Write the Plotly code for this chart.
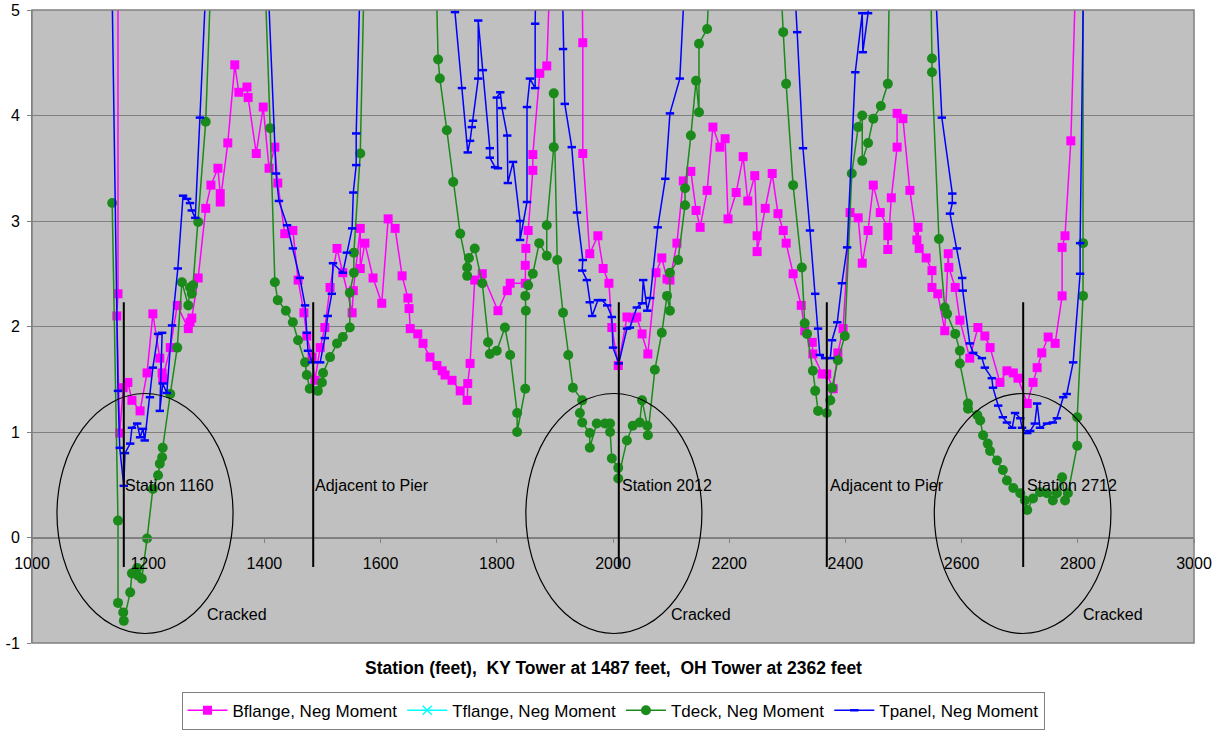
import plotly.graph_objects as go

# ---------------- data (station in feet, ratio values) ----------------
bf_x = [1148, 1148, 1146, 1151, 1157, 1165, 1172, 1186, 1198, 1208,
        1220, 1224, 1225, 1238, 1250, 1269, 1272, 1275, 1286, 1299,
        1308, 1320, 1324, 1324, 1337, 1349, 1356, 1370, 1372, 1386,
        1398, 1408, 1418, 1423, 1435, 1449, 1458, 1468, 1473, 1482,
        1487, 1496, 1504, 1513, 1525, 1535, 1551, 1553, 1565, 1565,
        1573, 1587, 1602, 1613, 1625, 1637, 1647, 1649, 1651, 1664,
        1673, 1685, 1697, 1706, 1711, 1723, 1737, 1749, 1750, 1754,
        1762, 1775, 1802, 1818, 1823, 1849, 1849, 1850, 1854, 1862,
        1862, 1874, 1886, 1934, 1948, 1948, 1960, 1974, 1983, 1993,
        1998, 2009, 2024, 2034, 2041, 2050, 2060, 2074, 2084, 2093,
        2098, 2110, 2121, 2134, 2143, 2150, 2162, 2172, 2184, 2193,
        2198, 2212, 2224, 2232, 2244, 2248, 2248, 2262, 2274, 2284,
        2293, 2298, 2310, 2324, 2330, 2343, 2344, 2360, 2368, 2379,
        2387, 2396, 2408, 2422, 2429, 2439, 2448, 2460, 2473, 2473,
        2473, 2479, 2489, 2489, 2499, 2511, 2523, 2525, 2527, 2539,
        2549, 2549, 2559, 2571, 2577, 2578, 2589, 2597, 2614, 2628,
        2640, 2649, 2666, 2678, 2689, 2697, 2713, 2723, 2730, 2738,
        2749, 2761, 2773, 2773, 2778, 2788, 2811]
bf_y = [8.0, 2.31, 2.10, 0.99, 1.42, 1.47, 1.30, 1.20, 1.56, 2.12,
        1.70, 1.56, 1.51, 1.80, 2.20, 1.98, 2.04, 2.08, 2.46, 3.12,
        3.34, 3.50, 3.26, 3.18, 3.74, 4.48, 4.22, 4.27, 4.17, 3.64,
        4.08, 3.50, 3.70, 3.36, 2.88, 2.91, 2.44, 2.13, 1.91, 1.71,
        1.49, 1.80, 1.99, 2.37, 2.74, 2.51, 2.13, 2.34, 2.93, 2.55,
        2.79, 2.46, 2.22, 3.02, 2.93, 2.48, 2.27, 2.17, 1.98, 1.93,
        1.84, 1.71, 1.63, 1.58, 1.54, 1.49, 1.39, 1.30, 1.46, 1.65,
        2.44, 2.50, 2.15, 2.34, 2.41, 2.41, 2.58, 2.74, 2.91, 3.48,
        3.63, 4.40, 4.47, 12.0, 4.69, 3.64, 2.69, 2.86, 2.55, 2.41,
        1.99, 1.63, 2.09, 2.08, 2.09, 1.93, 1.74, 2.51, 2.65, 2.45,
        2.44, 2.79, 3.38, 3.47, 3.10, 2.94, 3.29, 3.89, 3.70, 3.78,
        3.02, 3.27, 3.61, 3.19, 3.43, 2.86, 2.71, 3.12, 3.45, 3.07,
        2.91, 2.79, 2.50, 2.20, 1.96, 1.85, 1.74, 1.55, 1.55, 1.41,
        1.75, 1.98, 3.08, 3.03, 2.60, 2.91, 3.34, 3.08, 2.94, 2.86,
        2.73, 3.22, 3.70, 4.02, 3.97, 3.29, 2.82, 2.94, 2.74, 2.65,
        2.53, 2.37, 2.31, 1.96, 2.69, 2.56, 2.37, 2.06, 1.70, 1.99,
        1.91, 1.80, 1.47, 1.58, 1.56, 1.51, 1.27, 1.47, 1.61, 1.75,
        1.90, 1.84, 2.29, 2.75, 2.86, 3.76, 8.0]

# Tflange values lie outside the plotted range (nothing visible in the chart)
tf_x = [None]
tf_y = [None]

td_x = [1138, 1148, 1148, 1157, 1158, 1169, 1172, 1181, 1182, 1189,
        1198, 1208, 1217, 1220, 1224, 1225, 1238, 1250, 1258, 1269,
        1272, 1275, 1277, 1286, 1299, 1355, 1410, 1418, 1423, 1437,
        1449, 1458, 1470, 1473, 1478, 1492, 1499, 1501, 1513, 1525,
        1535, 1547, 1547, 1554, 1554, 1565, 1630, 1699, 1702, 1714,
        1725, 1737, 1749, 1749, 1752, 1762, 1775, 1785, 1788, 1800,
        1814, 1823, 1835, 1835, 1849, 1850, 1849, 1854, 1862, 1873,
        1886, 1886, 1898, 1898, 1904, 1914, 1923, 1931, 1947, 1943,
        1947, 1960, 1960, 1972, 1986, 1995, 1995, 1998, 2009, 2009,
        2024, 2034, 2046, 2050, 2059, 2060, 2072, 2084, 2093, 2098,
        2098, 2112, 2124, 2124, 2134, 2143, 2148, 2148, 2162, 2227,
        2293, 2298, 2310, 2325, 2330, 2334, 2344, 2348, 2353, 2368,
        2374, 2377, 2387, 2399, 2411, 2422, 2429, 2429, 2439, 2448,
        2461, 2473, 2511, 2549, 2549, 2561, 2571, 2575, 2589, 2597,
        2597, 2611, 2611, 2627, 2632, 2637, 2645, 2649, 2661, 2671,
        2678, 2689, 2701, 2709, 2713, 2723, 2735, 2747, 2757, 2764,
        2773, 2778, 2783, 2799, 2799, 2809, 2809, 2809]
td_y = [3.17, 0.16, -0.62, -0.71, -0.79, -0.52, -0.34, -0.29, -0.36, -0.39,
        -0.01, 0.46, 0.59, 0.70, 0.76, 0.85, 1.36, 1.80, 2.42, 2.20,
        2.37, 2.31, 2.39, 2.99, 3.94, 12.5, 3.88, 2.42, 2.25, 2.15,
        2.04, 1.87, 1.66, 1.54, 1.41, 1.39, 1.47, 1.56, 1.71, 1.84,
        1.90, 1.99, 2.32, 2.51, 2.70, 3.64, 20.0, 4.53, 4.35, 3.86,
        3.37, 2.88, 2.56, 2.48, 2.65, 2.74, 2.41, 1.85, 1.74, 1.77,
        1.99, 1.73, 1.18, 1.00, 1.41, 2.15, 2.29, 2.39, 2.50, 2.79,
        2.67, 2.96, 3.70, 4.21, 2.63, 2.13, 1.73, 1.42, 1.30, 1.18,
        1.09, 0.99, 0.85, 1.08, 1.08, 1.08, 1.00, 0.75, 0.66, 0.56,
        0.92, 1.06, 1.09, 1.30, 1.06, 0.97, 1.59, 1.94, 2.29, 2.15,
        2.51, 2.63, 3.15, 3.31, 3.81, 4.33, 4.03, 4.68, 4.82, 12.0,
        4.79, 4.30, 3.34, 2.56, 2.03, 1.93, 1.58, 1.39, 1.20, 1.18,
        1.30, 1.42, 1.68, 1.91, 3.45, 3.89, 4.00, 3.57, 3.74, 3.97,
        4.09, 4.30, 18.0, 4.54, 4.41, 2.83, 2.18, 2.12, 1.93, 1.77,
        1.65, 1.27, 1.22, 1.16, 1.11, 0.97, 0.89, 0.82, 0.73, 0.64,
        0.54, 0.47, 0.42, 0.35, 0.26, 0.37, 0.43, 0.42, 0.35, 0.42,
        0.57, 0.35, 0.42, 0.87, 1.14, 2.29, 2.79, 10.0]

tp_x = [1125, 1148, 1151, 1158, 1160, 1169, 1172, 1181, 1186, 1191,
        1194, 1203, 1208, 1217, 1224, 1220, 1225, 1232, 1241, 1251,
        1260, 1267, 1272, 1275, 1281, 1289, 1355, 1420, 1425, 1439,
        1449, 1461, 1470, 1473, 1475, 1482, 1496, 1504, 1509, 1516,
        1518, 1535, 1542, 1551, 1553, 1558, 1558, 1633, 1728, 1740,
        1750, 1754, 1757, 1759, 1768, 1768, 1776, 1788, 1788, 1797,
        1802, 1800, 1806, 1809, 1818, 1819, 1828, 1840, 1840, 1852,
        1852, 1857, 1866, 1866, 1888, 1914, 1917, 1929, 1938, 1948,
        1947, 1955, 1960, 1964, 1974, 1981, 1990, 1998, 2000, 2010,
        2024, 2029, 2041, 2050, 2052, 2059, 2064, 2077, 2090, 2098,
        2115, 2213, 2317, 2327, 2339, 2348, 2353, 2356, 2365, 2374,
        2377, 2386, 2394, 2403, 2417, 2429, 2430, 2439, 2494, 2566,
        2584, 2584, 2580, 2592, 2601, 2602, 2614, 2620, 2635, 2640,
        2652, 2654, 2663, 2671, 2678, 2687, 2692, 2701, 2704, 2713,
        2718, 2726, 2730, 2735, 2747, 2757, 2764, 2775, 2781, 2792,
        2804, 2804, 2821]
tp_y = [10.0, 1.39, 0.85, 0.49, 0.80, 0.89, 1.04, 1.08, 0.95, 1.03,
        0.92, 1.33, 1.61, 1.93, 1.94, 1.20, 1.46, 1.37, 2.01, 2.55,
        3.24, 3.21, 3.17, 3.10, 3.03, 3.98, 12.0, 3.45, 3.19, 2.96,
        2.74, 2.46, 2.20, 1.94, 1.77, 1.66, 1.66, 1.89, 2.10, 2.31,
        2.60, 2.51, 2.70, 2.93, 3.27, 3.53, 3.83, 20.0, 4.98, 4.26,
        3.65, 3.76, 3.89, 3.95, 4.35, 4.90, 4.43, 3.69, 3.60, 3.51,
        3.50, 4.17, 4.22, 4.07, 3.81, 3.36, 3.56, 3.00, 2.82, 3.18,
        4.08, 4.35, 4.26, 4.87, 12.0, 4.63, 4.11, 3.70, 3.08, 2.63,
        2.53, 2.44, 2.23, 2.10, 2.25, 2.25, 2.20, 2.09, 1.80, 1.65,
        1.98, 1.99, 2.18, 2.22, 2.44, 2.15, 2.27, 2.94, 3.40, 4.02,
        4.35, 15.0, 4.79, 3.69, 2.91, 2.31, 1.98, 1.73, 1.70, 1.70,
        1.87, 2.04, 2.41, 2.75, 4.41, 4.97, 4.60, 4.97, 12.0, 3.98,
        3.26, 3.17, 3.07, 2.74, 2.46, 2.34, 1.84, 1.75, 1.70, 1.61,
        1.51, 1.42, 1.25, 1.14, 1.09, 1.04, 1.18, 1.13, 1.04, 0.99,
        1.01, 1.08, 1.27, 1.04, 1.08, 1.09, 1.13, 1.33, 1.36, 1.66,
        2.50, 2.79, 10.0]

x_ticks = [1000, 1200, 1400, 1600, 1800, 2000, 2200, 2400, 2600, 2800, 3000]
y_ticks = [-1, 0, 1, 2, 3, 4, 5]

# annotation data
marker_stations = [1158, 1484, 2010, 2368, 2706]
marker_line_top = 2.23
marker_line_bottom = -0.28
note_texts = ["Station 1160", "Adjacent to Pier", "Station 2012", "Adjacent to Pier", "Station 2712"]
note_x = [1156, 1484, 2012, 2370, 2709]
note_y = 0.49
cracked_x = [1298, 2096, 2805]
cracked_y = -0.73
ellipse_x0 = [1043, 1850, 2553]
ellipse_x1 = [1346, 2153, 2857]
ellipse_y0 = -0.91
ellipse_y1 = 1.365

FONT = "Liberation Sans, Arial, sans-serif"

fig = go.Figure()
fig.add_trace(go.Scatter(
    x=bf_x, y=bf_y, mode="lines+markers", name="Bflange, Neg Moment",
    line=dict(color="#FF00FF", width=1.5),
    marker=dict(symbol="square", size=9, color="#FF00FF")))
fig.add_trace(go.Scatter(
    x=tf_x, y=tf_y, mode="lines+markers", name="Tflange, Neg Moment",
    line=dict(color="#00FFFF", width=1.5),
    marker=dict(symbol="x-thin", size=9, color="#00FFFF",
                line=dict(color="#00FFFF", width=1.5))))
fig.add_trace(go.Scatter(
    x=td_x, y=td_y, mode="lines+markers", name="Tdeck, Neg Moment",
    line=dict(color="#1A8A1A", width=1.5),
    marker=dict(symbol="circle", size=10, color="#1A8A1A")))
fig.add_trace(go.Scatter(
    x=tp_x, y=tp_y, mode="lines+markers", name="Tpanel, Neg Moment",
    line=dict(color="#0000FF", width=1.5),
    marker=dict(symbol="line-ew", size=6, color="#0000FF",
                line=dict(color="#0000FF", width=2.5))))

shapes = []
for xs in marker_stations:
    shapes.append(dict(type="line", xref="x", yref="y", x0=xs, x1=xs,
                       y0=marker_line_bottom, y1=marker_line_top,
                       line=dict(color="black", width=2)))
for a, b in zip(ellipse_x0, ellipse_x1):
    shapes.append(dict(type="circle", xref="x", yref="y", x0=a, x1=b,
                       y0=ellipse_y0, y1=ellipse_y1,
                       line=dict(color="black", width=1.2)))
shapes.append(dict(type="rect", xref="paper", yref="paper", x0=0, x1=1, y0=0, y1=1,
                   line=dict(color="#808080", width=1.5)))

annotations = []
for t, xv in zip(note_texts, note_x):
    annotations.append(dict(x=xv, y=note_y, xref="x", yref="y", text=t, showarrow=False,
                            xanchor="left", yanchor="middle",
                            font=dict(family=FONT, size=16, color="black")))
for xv in cracked_x:
    annotations.append(dict(x=xv, y=cracked_y, xref="x", yref="y", text="Cracked",
                            showarrow=False, xanchor="left", yanchor="middle",
                            font=dict(family=FONT, size=16, color="black")))
annotations.append(dict(
    x=0.5, y=-0.04, xref="paper", yref="paper",
    text="<b>Station (feet),\u00a0 KY Tower at 1487 feet,\u00a0 OH Tower at 2362 feet</b>",
    showarrow=False, xanchor="center", yanchor="middle",
    font=dict(family=FONT, size=17.5, color="black")))

fig.update_layout(
    width=1225, height=730,
    margin=dict(l=32, r=31, t=10, b=87, autoexpand=False),
    paper_bgcolor="white", plot_bgcolor="#C0C0C0",
    font=dict(family=FONT, size=16, color="black"),
    showlegend=True,
    legend=dict(orientation="h", x=0.5, xanchor="center", y=-0.107, yanchor="middle",
                bordercolor="#808080", borderwidth=1, bgcolor="white",
                font=dict(family=FONT, size=17, color="black"),
                itemwidth=40, tracegroupgap=0),
    xaxis=dict(range=[1000, 3000], tickvals=x_ticks, ticktext=[str(v) for v in x_ticks],
               showgrid=False, zeroline=False, showline=True, linecolor="#808080",
               anchor="free", position=1 / 6, ticks="outside", ticklen=4,
               tickcolor="#808080", ticklabelstandoff=7,
               tickfont=dict(family=FONT, size=16, color="black")),
    yaxis=dict(range=[-1, 5], tickvals=y_ticks, ticktext=[str(v) for v in y_ticks],
               showgrid=True, gridcolor="#808080", gridwidth=1, zeroline=False,
               showline=True, linecolor="#808080", ticks="outside", ticklen=4,
               tickcolor="#808080", ticklabelstandoff=4,
               tickfont=dict(family=FONT, size=16, color="black")),
    shapes=shapes, annotations=annotations,
)

fig.write_html("out.html")
